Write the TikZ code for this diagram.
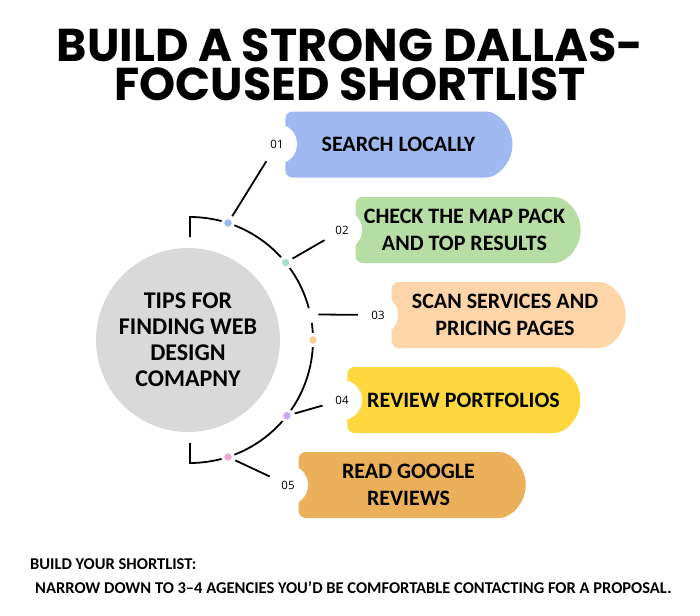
\documentclass[tikz,border=0pt]{standalone}
\usepackage{fontspec}
\setmainfont{Carlito}
\newfontfamily\titlefont{Poppins}
\newfontfamily\numfont{Open Sans}
\usetikzlibrary{shapes.misc,calc}
\definecolor{hubgrey}{HTML}{D9D9D9}
\definecolor{pillblue}{HTML}{A0B9F0}
\definecolor{pillgreen}{HTML}{B5DDA4}
\definecolor{pillpeach}{HTML}{FDD5A8}
\definecolor{pillyellow}{HTML}{FDD83F}
\definecolor{pillorange}{HTML}{EBB05A}
\definecolor{dotblue}{HTML}{9DB8F0}
\definecolor{dotteal}{HTML}{A8DCCF}
\definecolor{dotpeach}{HTML}{FCCB98}
\definecolor{dotpurple}{HTML}{C8A8F0}
\definecolor{dotpink}{HTML}{F0A8D0}

\begin{document}
\begin{tikzpicture}[x=1pt,y=-1pt,
  pill/.style={rounded rectangle,rounded rectangle left arc=none,rounded corners=7pt,minimum height=66pt,inner sep=0pt,align=center,font=\bfseries\fontsize{22}{27}\selectfont},
  num/.style={circle,fill=white,minimum size=40pt,inner sep=0pt,font=\numfont\fontsize{11.5}{13}\selectfont},
  dot/.style={circle,fill=#1,draw=white,line width=3pt,minimum size=11pt,inner sep=0pt},
  arcline/.style={line width=1.8pt},
  link/.style={line width=1.8pt,shorten <=1pt},
  headline/.style={font=\titlefont\bfseries\fontsize{46}{46}\selectfont,anchor=base,inner sep=0pt}]
\useasboundingbox[fill=white] (0,0) rectangle (700,615);
\node[headline] (title1) at (350,62) {BUILD A STRONG DALLAS-};
\node[headline] (title2) at (350,100) {FOCUSED SHORTLIST};
% hub and arc
\coordinate (c) at (190,340);
\node[circle,fill=hubgrey,minimum size=184pt,inner sep=0pt,align=center,font=\bfseries\fontsize{24}{26}\selectfont] (hub) at (188,340) {TIPS FOR\\FINDING WEB\\DESIGN\\COMAPNY};
\draw[arcline] (190,237)--(190,217) arc[start angle=-90,end angle=-15,radius=123];
\draw[arcline] ($(c)+(-8:123)$) arc[start angle=-8,end angle=90,radius=123]--(190,443);
% steps
\node[pill,fill=pillblue,minimum width=227pt] (p1) at (398.5,144.5) {SEARCH LOCALLY};
\node[pill,fill=pillgreen,minimum width=225pt] (p2) at (464.5,230) {CHECK THE MAP PACK\\AND TOP RESULTS};
\node[pill,fill=pillpeach,minimum width=234pt] (p3) at (505,315) {SCAN SERVICES AND\\PRICING PAGES};
\node[pill,fill=pillyellow,minimum width=233pt] (p4) at (463.5,400) {REVIEW PORTFOLIOS};
\node[pill,fill=pillorange,minimum width=227pt] (p5) at (408.5,485) {READ GOOGLE\\REVIEWS};
\node[num] (n1) at (277,144) {01};
\node[num] (n2) at (342,230) {02};
\node[num] (n3) at (378,315) {03};
\node[num] (n4) at (342,400) {04};
\node[num] (n5) at (288,485) {05};
\foreach \a/\c/\n in {-72/dotblue/d1,-39/dotteal/d2,0/dotpeach/d3,38/dotpurple/d4,72/dotpink/d5}
  \node[dot=\c] (\n) at ($(c)+(\a:123)$) {};
\coordinate (a3) at ($(c)+(-12:123)$);
\draw[link] (d1)--(n1);
\draw[link] (d2)--(n2);
\draw[link,shorten <=8pt] (a3)--(n3);
\draw[link] (d4)--(n4);
\draw[link] (d5)--(n5);
% note
\node[anchor=base west,font=\bfseries\fontsize{16.5}{18}\selectfont,inner sep=0pt] (note1) at (30,569) {BUILD YOUR SHORTLIST:};
\node[anchor=base west,font=\bfseries\fontsize{16.5}{18}\selectfont,inner sep=0pt] (note2) at (35,593) {NARROW DOWN TO 3–4 AGENCIES YOU’D BE COMFORTABLE CONTACTING FOR A PROPOSAL.};
\end{tikzpicture}
\end{document}
